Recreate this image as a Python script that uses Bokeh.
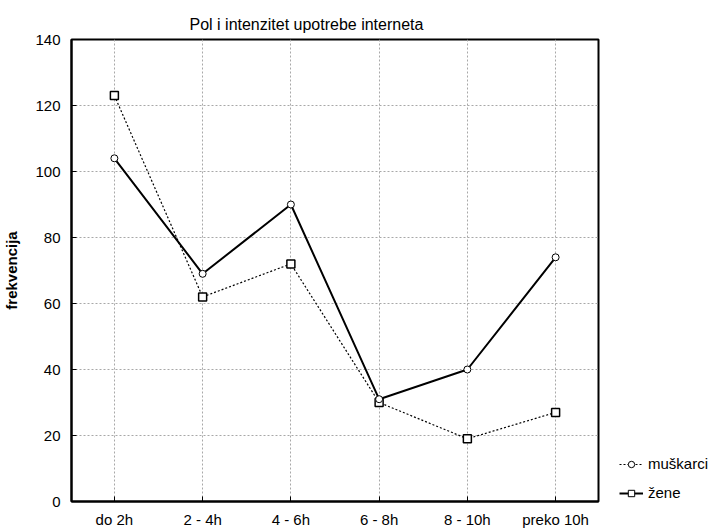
from bokeh.plotting import figure
from bokeh.layouts import row
from bokeh.models import Range1d, FixedTicker, Legend, LegendItem, ColumnDataSource
from bokeh.embed import file_html
from bokeh.resources import INLINE

kategorije = ["do 2h", "2 - 4h", "4 - 6h", "6 - 8h", "8 - 10h", "preko 10h"]
muskarci = [123, 62, 72, 30, 19, 27]
zene = [104, 69, 90, 31, 40, 74]
y_ticks = [0, 20, 40, 60, 80, 100, 120, 140]

x = list(range(len(kategorije)))
FONT = "Liberation Sans"
H = 530

p = figure(width=608, height=H, output_backend="svg", toolbar_location=None,
           x_range=Range1d(-0.486, 5.486), y_range=Range1d(0, 140),
           min_border_left=70, min_border_right=10, min_border_top=39, min_border_bottom=28)

p.title.text = "Pol i intenzitet upotrebe interneta"
p.title.align = "left"
p.title.offset = 118
p.title.standoff = 13
p.title.text_font = FONT
p.title.text_font_size = "16px"
p.title.text_font_style = "normal"
p.title.text_color = "black"

p.background_fill_color = "white"
p.border_fill_color = "white"
p.outline_line_color = "black"
p.outline_line_width = 2

p.xaxis.ticker = FixedTicker(ticks=x)
p.xaxis.major_label_overrides = {i: k for i, k in enumerate(kategorije)}
p.yaxis.ticker = FixedTicker(ticks=y_ticks)

for ax in (p.xaxis[0], p.yaxis[0]):
    ax.axis_line_color = "black"
    ax.axis_line_width = 2
    ax.major_tick_in = 5
    ax.major_tick_out = 0
    ax.minor_tick_line_color = None
    ax.major_tick_line_color = "black"
    ax.major_label_text_font = FONT
    ax.major_label_text_color = "black"

p.xaxis.major_label_text_font_size = "15px"
p.xaxis.major_label_standoff = 9
p.yaxis.major_label_text_font_size = "15px"
p.yaxis.major_label_standoff = 11
p.yaxis.axis_label = "frekvencija"
p.yaxis.axis_label_text_font = FONT
p.yaxis.axis_label_text_font_size = "15px"
p.yaxis.axis_label_text_font_style = "bold"
p.yaxis.axis_label_text_color = "black"
p.yaxis.axis_label_standoff = 12

p.xgrid.ticker = FixedTicker(ticks=x)
p.ygrid.ticker = FixedTicker(ticks=y_ticks)
for g in (p.xgrid[0], p.ygrid[0]):
    g.grid_line_color = "#a8a8a8"
    g.grid_line_dash = "2 2"
    g.grid_line_width = 1

# series
p.line(x, muskarci, line_color="black", line_width=1.2, line_dash="2 2")
p.scatter(x, muskarci, marker="square", size=8, fill_color="white",
          line_color="black", line_width=1.5)
p.line(x, zene, line_color="black", line_width=2)
p.scatter(x, zene, marker="circle", size=7, fill_color="white",
          line_color="black", line_width=1)

# legend panel (as shown in the original legend)
lf = figure(width=106, height=H, output_backend="svg", toolbar_location=None,
            x_axis_type=None, y_axis_type=None, x_range=Range1d(0, 1), y_range=Range1d(0, 1),
            min_border_left=0, min_border_right=0, min_border_top=0, min_border_bottom=0)
lf.outline_line_color = None
lf.grid.visible = False
lf.background_fill_color = "white"
lf.border_fill_color = "white"

nan = float("nan")
def empty():
    return ColumnDataSource(data=dict(x=[nan], y=[nan]))

lm_line = lf.line("x", "y", source=empty(), line_color="black", line_width=1.2, line_dash="2 2")
lm_mark = lf.scatter("x", "y", source=empty(), marker="circle", size=6, fill_color="white",
                     line_color="black", line_width=1)
lz_line = lf.line("x", "y", source=empty(), line_color="black", line_width=2)
lz_mark = lf.scatter("x", "y", source=empty(), marker="square", size=7, fill_color="white",
                     line_color="black", line_width=1)

legend = Legend(items=[LegendItem(label="muškarci", renderers=[lm_line, lm_mark]),
                       LegendItem(label="žene", renderers=[lz_line, lz_mark])],
                location=(11, 0), orientation="vertical",
                padding=0, margin=0, spacing=12,
                glyph_width=24, glyph_height=16, label_height=16, label_standoff=5,
                label_text_font=FONT, label_text_font_size="15px", label_text_color="black",
                border_line_color=None, background_fill_alpha=0)
lf.add_layout(legend, "center")

layout = row(p, lf, spacing=0)
open("out.html", "w").write(file_html(layout, INLINE))
